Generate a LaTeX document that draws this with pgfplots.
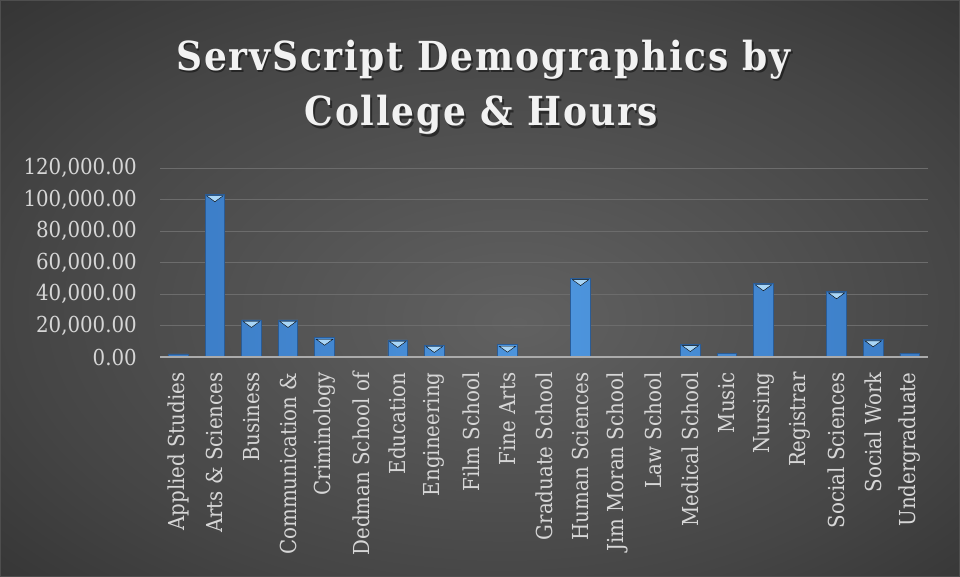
\documentclass[border=0pt]{standalone}
\usepackage{pgfplots}
\pgfplotsset{compat=1.18}
\usepackage{fontspec}
\setmainfont{DejaVu Serif Condensed}
\newfontfamily\titlefont[LetterSpace=4.5]{DejaVu Serif Condensed}
\definecolor{bgin}{HTML}{616161}
\definecolor{bgmid}{HTML}{454545}
\definecolor{bgout}{HTML}{343434}
\definecolor{bordc}{HTML}{4E4E4E}
\definecolor{txt}{HTML}{D6D6D6}
\definecolor{titlec}{HTML}{F2F2F2}
\definecolor{gridc}{HTML}{6C6C6C}
\definecolor{axisc}{HTML}{ABABAB}
\definecolor{barL}{HTML}{3B7CC6}
\definecolor{barM}{HTML}{4E96DE}
\definecolor{barE}{HTML}{2A5C96}
\definecolor{tri}{HTML}{A9D6F7}
\pgfdeclareradialshading{bgshade}{\pgfpoint{2bp}{-3bp}}{color(0bp)=(bgin); color(25bp)=(bgmid); color(37bp)=(bgout); color(50bp)=(bgout)}
\begin{document}
\begin{tikzpicture}[x=1pt,y=1pt]
\path[use as bounding box] (0,0) rectangle (960,577);
\shade[shading=bgshade] (0,0) rectangle (960,577);
\draw[bordc, line width=1pt] (0.5,0.5) rectangle (959.5,576.5);
% title with shadow
\node[anchor=base, text=black, opacity=0.45, font=\titlefont\bfseries\fontsize{40}{48}\selectfont] at (485,504) {ServScript Demographics by};
\node[anchor=base, text=black, opacity=0.45, font=\titlefont\bfseries\fontsize{40}{48}\selectfont] at (483,448.5) {College \& Hours};
\node[anchor=base, text=titlec, font=\titlefont\bfseries\fontsize{40}{48}\selectfont] at (483.5,506.5) {ServScript Demographics by};
\node[anchor=base, text=titlec, font=\titlefont\bfseries\fontsize{40}{48}\selectfont] at (481.5,451) {College \& Hours};
\begin{axis}[
  at={(160pt,219.7pt)}, anchor=south west,
  scale only axis, width=768pt, height=189pt,
  xmin=-0.5, xmax=20.5, ymin=0, ymax=120000,
  xtick={0,1,...,20},
  xticklabels={Applied Studies, Arts \& Sciences, Business, Communication \&, Criminology, Dedman School of, Education, Engineering, Film School, Fine Arts, Graduate School, Human Sciences, Jim Moran School, Law School, Medical School, Music, Nursing, Registrar, Social Sciences, Social Work, Undergraduate},
  ytick={0,20000,40000,60000,80000,100000,120000},
  scaled y ticks=false,
  yticklabel style={anchor=east, inner sep=0pt, /pgf/number format/fixed, /pgf/number format/fixed zerofill, /pgf/number format/precision=2, /pgf/number format/1000 sep={,}, /pgf/number format/assume math mode=true},
  axis line style={draw=none},
  major tick length=0pt,
  ymajorgrids, grid style={gridc, line width=1pt},
  tick label style={font=\fontsize{22}{22}\selectfont, text=txt},
  xticklabel style={rotate=90, anchor=east, inner sep=0pt},
  xticklabel shift=15pt,
  yticklabel shift=23pt,
  clip=false,
]
\addplot[ybar, bar width=19.5pt, draw=barE, line width=0.8pt, left color=barL, right color=barL, middle color=barM] coordinates {
(0,2100) (1,103500) (2,23700) (3,23700) (4,12400) (5,500) (6,11000) (7,7800) (8,0) (9,8000) (10,300) (11,50300) (12,400) (13,200) (14,8400) (15,2200) (16,47000) (17,0) (18,41900) (19,11400) (20,2600)
};
\addplot[only marks, mark=triangle*, mark size=9.5pt, mark options={yshift=-3.5pt, rotate=180, yscale=0.42, fill=tri, draw=none}] coordinates {
(1,103500) (2,23700) (3,23700) (4,12400) (6,11000) (7,7800) (9,8000) (11,50300) (14,8400) (16,47000) (18,41900) (19,11400)
};
\draw[axisc, line width=2pt] (rel axis cs:0,0) -- (rel axis cs:1,0);
\end{axis}
\end{tikzpicture}
\end{document}
